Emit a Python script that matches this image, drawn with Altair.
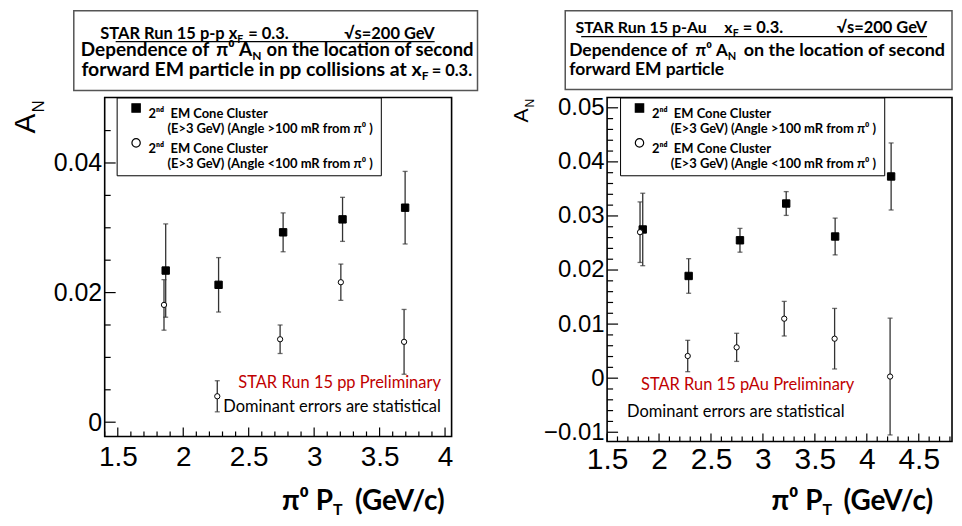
import altair as alt
import pandas as pd
import numpy as np

# ---------------- data ----------------
# p-p panel
PP_FAR_PT = [1.866, 2.27, 2.763, 3.217, 3.695]
PP_FAR_AN = [0.0234, 0.0212, 0.0293, 0.0313, 0.0331]
PP_FAR_ERR = [0.0072, 0.0042, 0.0030, 0.0034, 0.0056]
PP_NEAR_PT = [1.853, 2.26, 2.74, 3.204, 3.687]
PP_NEAR_AN = [0.0181, 0.0040, 0.0128, 0.0216, 0.0124]
PP_NEAR_ERR = [0.0039, 0.0024, 0.0022, 0.0028, 0.0050]

# p-Au panel
PAU_FAR_PT = [1.843, 2.285, 2.779, 3.224, 3.695, 4.234]
PAU_FAR_AN = [0.0275, 0.0189, 0.0255, 0.0323, 0.0262, 0.0373]
PAU_FAR_ERR = [0.0067, 0.0032, 0.0022, 0.0022, 0.0034, 0.0062]
PAU_NEAR_PT = [1.817, 2.276, 2.747, 3.205, 3.69, 4.224]
PAU_NEAR_AN = [0.0270, 0.0041, 0.0057, 0.0110, 0.0073, 0.0003]
PAU_NEAR_ERR = [0.0056, 0.0029, 0.0026, 0.0032, 0.0056, 0.0108]

NB = "\u00a0"
ZW = "\u200b"
FAR_LABEL = "2ⁿᵈ" + NB * 2 + "EM Cone Cluster|" + ZW + NB * 6 + "(E>3 GeV) (Angle >100 mR from π⁰ )" + NB + ZW
NEAR_LABEL = "2ⁿᵈ" + NB * 2 + "EM Cone Cluster|" + ZW + NB * 6 + "(E>3 GeV) (Angle <100 mR from π⁰ )" + NB + ZW
SERIES = [FAR_LABEL, NEAR_LABEL]

PP_X_TICKS = [1.5, 2, 2.5, 3, 3.5, 4]
PP_Y_TICKS = [0, 0.02, 0.04]
PAU_X_TICKS = [1.5, 2, 2.5, 3, 3.5, 4, 4.5]
PAU_Y_TICKS = [-0.01, 0, 0.01, 0.02, 0.03, 0.04, 0.05]

PP_TITLE = ["STAR Run 15 p-p x", "F", "= 0.3.", "√s=200 GeV",
            "Dependence of", "π⁰ A", "N", "on the location of second",
            "forward EM particle in pp collisions at x", "F", "= 0.3."]
PAU_TITLE = ["STAR Run 15 p-Au", "x", "F", "= 0.3.", "√s=200 GeV",
             "Dependence of", "π⁰ A", "N", "on the location of second",
             "forward EM particle"]
PP_NOTE = ["STAR Run 15 pp Preliminary", "Dominant errors are statistical"]
PAU_NOTE = ["STAR Run 15 pAu Preliminary", "Dominant errors are statistical"]
X_TITLE = ["π⁰ P", "T", "(GeV/c)"]

ONE = pd.DataFrame({"k": [0]})
RED = "#c00000"


def txt(s, x, y, size, font="Lato", weight="bold", align="left", color="black", angle=0):
    props = dict(text=s, fontSize=size, font=font, fontWeight=weight, align=align,
                 color=color, baseline="alphabetic")
    if angle:
        props["angle"] = angle
    return alt.Chart(ONE).mark_text(**props).encode(x=alt.value(x), y=alt.value(y))


def panel(far_pt, far_an, far_err, near_pt, near_an, near_err, W, H, xdom, ydom,
          xmaj, xmin_step, xminlo, ymaj, ymin_step, yminlo, ymaxv, ytick, xtick,
          ylab_size, xlab_size, xlab_pad, legx, legy, bounds_right, extra):
    df = pd.DataFrame({
        "pt": far_pt + near_pt,
        "an": far_an + near_an,
        "err": far_err + near_err,
        "series": [FAR_LABEL] * len(far_pt) + [NEAR_LABEL] * len(near_pt),
    })
    df["lo"] = df["an"] - df["err"]
    df["hi"] = df["an"] + df["err"]

    xaxis = alt.Axis(values=xmaj, format="~g", ticks=False, domain=False, grid=False,
                     labelFont="Liberation Sans", labelFontSize=xlab_size, labelPadding=xlab_pad,
                     labelColor="black", labelOverlap=False, labelFlush=False)
    yaxis = alt.Axis(values=ymaj, labelExpr="datum.value == 0 ? '0' : format(datum.value, '.2f')",
                     ticks=False, domain=False, grid=False,
                     labelFont="Liberation Sans", labelFontSize=ylab_size, labelPadding=3,
                     labelColor="black", labelOverlap=False, labelFlush=False)
    xs = alt.Scale(domain=xdom, nice=False, zero=False)
    ys = alt.Scale(domain=ydom, nice=False, zero=False)

    def X(f="pt"):
        return alt.X(f + ":Q", scale=xs, axis=xaxis, title=None)

    def Y(f="an"):
        return alt.Y(f + ":Q", scale=ys, axis=yaxis, title=None)

    xminor = [round(v, 3) for v in np.arange(xminlo, xdom[1], xmin_step)
              if all(abs(v - m) > 1e-6 for m in xmaj)]
    yminor = [round(v, 4) for v in np.arange(yminlo, ymaxv, ymin_step)
              if all(abs(v - m) > 1e-7 for m in ymaj)]

    layers = []
    # invisible extent of the panel (controls layout)
    layers.append(alt.Chart(ONE).mark_rect(opacity=0).encode(
        x=alt.value(-96), x2=alt.value(bounds_right), y=alt.value(-87), y2=alt.value(421)))
    # top text box
    bx = extra["box"]
    layers.append(alt.Chart(ONE).mark_rect(fill="white", stroke="#555555", strokeWidth=1.5).encode(
        x=alt.value(bx[0]), x2=alt.value(bx[1]), y=alt.value(-87), y2=alt.value(bx[2])))
    for (s, x, y, size, align) in extra["texts"]:
        layers.append(txt(s, x, y, size, align=align))
    ul = extra["underline"]
    layers.append(alt.Chart(ONE).mark_rule(color="black", strokeWidth=1.2).encode(
        x=alt.value(ul[0]), x2=alt.value(ul[1]), y=alt.value(ul[2])))

    # ticks (inside the frame, left and bottom only)
    tx_maj = pd.DataFrame({"pt": xmaj})
    tx_min = pd.DataFrame({"pt": xminor})
    ty_maj = pd.DataFrame({"an": ymaj})
    ty_min = pd.DataFrame({"an": yminor})
    layers.append(alt.Chart(tx_maj).mark_rule(color="black", strokeWidth=1.2).encode(
        x=X(), y=alt.value(H), y2=alt.value(H - xtick[0])))
    layers.append(alt.Chart(tx_min).mark_rule(color="black", strokeWidth=1.2).encode(
        x=X(), y=alt.value(H), y2=alt.value(H - xtick[1])))
    layers.append(alt.Chart(ty_maj).mark_rule(color="black", strokeWidth=1.2).encode(
        y=Y(), x=alt.value(0), x2=alt.value(ytick[0])))
    layers.append(alt.Chart(ty_min).mark_rule(color="black", strokeWidth=1.2).encode(
        y=Y(), x=alt.value(0), x2=alt.value(ytick[1])))

    # error bars
    layers.append(alt.Chart(df).mark_rule(color="#333333", strokeWidth=1.3).encode(
        x=X(), y=Y("lo"), y2="hi:Q"))
    layers.append(alt.Chart(df).mark_tick(color="#333333", orient="horizontal", size=5, thickness=1.3).encode(
        x=X(), y=Y("lo")))
    layers.append(alt.Chart(df).mark_tick(color="#333333", orient="horizontal", size=5, thickness=1.3).encode(
        x=X(), y=Y("hi")))

    leg = alt.Legend(title=None, orient="none", legendX=legx, legendY=legy, direction="vertical",
                     labelExpr="split(datum.label, '|')", labelFont="Lato", labelFontWeight="bold",
                     labelFontSize=13, labelColor="black", labelBaseline="top", labelOffset=6,
                     labelLimit=600, symbolSize=70, symbolStrokeColor="black", symbolStrokeWidth=1.2,
                     fillColor="white", strokeColor="black", padding=4, rowPadding=-7,
                     symbolOffset=9, cornerRadius=0)
    shape = alt.Shape("series:N", scale=alt.Scale(domain=SERIES, range=["square", "circle"]), legend=leg)
    fill = alt.Fill("series:N", scale=alt.Scale(domain=SERIES, range=["black", "white"]), legend=leg)
    stroke = alt.Stroke("series:N", scale=alt.Scale(domain=SERIES, range=["black", "black"]), legend=leg)
    layers.append(alt.Chart(df).transform_filter(alt.datum.series == FAR_LABEL).mark_point(
        filled=True, opacity=1, size=55, strokeWidth=1).encode(
        x=X(), y=Y(), shape=shape, fill=fill, stroke=stroke))
    layers.append(alt.Chart(df).transform_filter(alt.datum.series == NEAR_LABEL).mark_point(
        filled=True, opacity=1, size=28, strokeWidth=1).encode(
        x=X(), y=Y(), shape=shape, fill=fill, stroke=stroke))

    # annotations
    n = extra["notes"]
    layers.append(txt(n[0][0], n[0][1], n[0][2], n[0][3], weight="normal", color=RED))
    layers.append(txt(n[1][0], n[1][1], n[1][2], n[1][3], weight="normal"))
    # y-axis title A_N (rotated)
    a = extra["an_title"]
    layers.append(txt("A", a[0], a[1], a[2], font="Liberation Sans", weight="normal", angle=270))
    layers.append(txt("N", a[3], a[4], a[5], font="Liberation Sans", weight="normal", angle=270))
    # x-axis title
    t = extra["x_title"]
    layers.append(txt(X_TITLE[0], t[0], 414, 28, align="right"))
    layers.append(txt(X_TITLE[1], t[0], 419, 16))
    layers.append(txt(X_TITLE[2], t[1], 414, 28, align="right"))

    return alt.layer(*layers).properties(width=W, height=H)


pp_extra = {
    "box": (-31, 374, -7),
    "texts": [
        (PP_TITLE[0], 133, -59, 16.5, "right"), (PP_TITLE[1], 133, -55, 10.5, "left"),
        (PP_TITLE[2], 144, -59, 16.5, "left"), (PP_TITLE[3], 331, -59, 16.5, "right"),
        (PP_TITLE[4], -24, -42, 19, "left"), (PP_TITLE[5], 148, -42, 19, "right"),
        (PP_TITLE[6], 148, -38, 12, "left"), (PP_TITLE[7], 370, -42, 18.5, "right"),
        (PP_TITLE[8], 318, -22, 19.5, "right"), (PP_TITLE[9], 318, -18, 12, "left"),
        (PP_TITLE[10], 328, -22, 16.5, "left"),
    ],
    "underline": (11, 331, -56),
    "notes": [(PP_NOTE[0], 134, 291, 16.5), (PP_NOTE[1], 119, 315, 16.5)],
    "an_title": (-70, 36, 30, -61, 15, 17),
    "x_title": (229, 341),
}
pau_extra = {
    "box": (-42, 346, -8),
    "texts": [
        (PAU_TITLE[0], 100, -65, 16, "right"), (PAU_TITLE[1], 126, -65, 16, "right"),
        (PAU_TITLE[2], 126, -61, 10.5, "left"), (PAU_TITLE[3], 136, -65, 16.5, "left"),
        (PAU_TITLE[4], 321, -65, 16.5, "right"),
        (PAU_TITLE[5], -38, -42, 17.5, "left"), (PAU_TITLE[6], 121, -42, 17, "right"),
        (PAU_TITLE[7], 121, -38, 11, "left"), (PAU_TITLE[8], 339, -42, 18, "right"),
        (PAU_TITLE[9], -38, -23, 17.5, "left"),
    ],
    "underline": (-26, 321, -61),
    "notes": [(PAU_NOTE[0], 34, 293, 16.5), (PAU_NOTE[1], 20, 320, 16.5)],
    "an_title": (-79, 25, 21, -73, 10, 12),
    "x_title": (216, 327),
}

left = panel(PP_FAR_PT, PP_FAR_AN, PP_FAR_ERR, PP_NEAR_PT, PP_NEAR_AN, PP_NEAR_ERR,
             348, 340, [1.40, 4.05], [-0.0022, 0.0501],
             PP_X_TICKS, 0.1, 1.4, PP_Y_TICKS, 0.005, 0.0, 0.048, (11, 6), (9, 5),
             25, 28, 7, 12, 0, 375, pp_extra)
right = panel(PAU_FAR_PT, PAU_FAR_AN, PAU_FAR_ERR, PAU_NEAR_PT, PAU_NEAR_AN, PAU_NEAR_ERR,
              346, 345, [1.5, 4.82], [-0.0117, 0.0519],
              PAU_X_TICKS, 0.1, 1.5, PAU_Y_TICKS, 0.002, -0.01, 0.0515, (11, 6), (8, 5),
              24, 30, 3, 13, 0, 346, pau_extra)

chart = alt.hconcat(left, right, spacing=31).resolve_scale(
    shape="independent", fill="independent", stroke="independent"
).resolve_legend(shape="independent", fill="independent", stroke="independent").properties(
    padding=0, background="white"
).configure_view(stroke="black", strokeWidth=1.6)

chart.save("out.html", embed_options={"renderer": "svg", "actions": False})
